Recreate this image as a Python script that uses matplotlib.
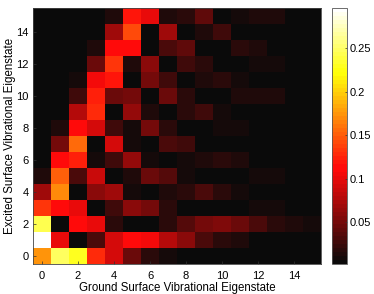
import numpy as np
import matplotlib
matplotlib.use('Agg')
import matplotlib.pyplot as plt
from matplotlib.colors import ListedColormap

plt.rcParams['font.family'] = ['Liberation Sans', 'DejaVu Sans']

x_label = 'Ground Surface Vibrational Eigenstate'
y_label = 'Excited Surface Vibrational Eigenstate'
ticks = [0, 2, 4, 6, 8, 10, 12, 14]
cbar_ticks = [0.05, 0.1, 0.15, 0.2, 0.25]
cbar_labels = ['0.05', '0.1', '0.15', '0.2', '0.25']
vmin, vmax = 0.002, 0.296

row_0 = [.175, .25, .23, .13, .09, .045, .018, .01, .005, .003, .003, .003, .003, .003, .003, .003]
row_1 = [.296, .1, .003, .03, .09, .115, .105, .08, .06, .03, .018, .012, .005, .005, .004, .004]
row_2 = [.245, .003, .115, .1, .02, .003, .006, .018, .035, .05, .055, .045, .03, .02, .012, .008]
row_3 = [.135, .115, .1, .003, .025, .06, .05, .02, .005, .003, .003, .006, .008, .008, .006, .004]
row_4 = [.07, .17, .003, .06, .07, .01, .005, .012, .02, .03, .02, .01, .003, .003, .003, .003]
row_5 = [.015, .15, .03, .085, .003, .012, .045, .035, .008, .004, .004, .006, .008, .008, .006, .004]
row_6 = [.004, .115, .125, .01, .025, .065, .01, .004, .01, .015, .018, .012, .003, .003, .003, .003]
row_7 = [.003, .05, .155, .005, .09, .007, .006, .03, .025, .006, .004, .004, .006, .006, .005, .004]
row_8 = [.003, .012, .115, .09, .025, .008, .05, .018, .003, .006, .01, .01, .006, .005, .005, .005]
row_9 = [.003, .005, .08, .13, .003, .065, .015, .004, .02, .025, .008, .003, .003, .003, .003, .003]
row_10 = [.003, .003, .025, .125, .045, .05, .004, .045, .02, .003, .004, .012, .012, .012, .003, .003]
row_11 = [.003, .003, .007, .105, .12, .003, .05, .025, .003, .012, .02, .01, .003, .003, .003, .003]
row_12 = [.003, .003, .003, .045, .135, .015, .06, .005, .025, .02, .004, .004, .007, .01, .006, .004]
row_13 = [.003, .003, .003, .012, .115, .115, .005, .03, .04, .004, .005, .018, .012, .003, .003, .003]
row_14 = [.003, .003, .003, .003, .07, .14, .004, .07, .005, .015, .025, .006, .003, .003, .005, .003]
row_15 = [.003, .003, .003, .003, .012, .12, .10, .015, .02, .04, .003, .008, .015, .015, .003, .003]

rows = [row_0, row_1, row_2, row_3, row_4, row_5, row_6, row_7, row_8, row_9,
        row_10, row_11, row_12, row_13, row_14, row_15]
Z = np.array(rows)

W, H = 374, 294
fig = plt.figure(figsize=(W / 100, H / 100), dpi=100)
ax = fig.add_axes([33 / W, 1 - 264 / H, 288 / W, 256 / H])
base = plt.get_cmap('hot', 64)(np.arange(64))
base[:, :3] = np.maximum(base[:, :3], 0.04)
cmap = ListedColormap(base)
im = ax.imshow(Z, origin='lower', cmap=cmap, vmin=vmin, vmax=vmax, aspect='auto',
               interpolation='nearest')
ax.set_xticks(ticks)
ax.set_yticks(ticks)
ax.tick_params(direction='in', length=2.5, width=0.5, labelsize=8, color='#333333')
ax.tick_params(axis='x', pad=5)
ax.tick_params(axis='y', pad=3)
ax.set_xlabel(x_label, fontsize=8.3, labelpad=0.5)
ax.set_ylabel(y_label, fontsize=8.3, labelpad=0.5)
for s in ax.spines.values():
    s.set_linewidth(0.6)
    s.set_color('#444444')

cax = fig.add_axes([332 / W, 1 - 264 / H, 15 / W, 256 / H])
cb = fig.colorbar(im, cax=cax)
cb.set_ticks(cbar_ticks)
cb.set_ticklabels(cbar_labels)
cax.tick_params(direction='in', length=1.5, width=0.5, labelsize=8, color='#333333', pad=2)
cb.outline.set_linewidth(0.6)
cb.outline.set_edgecolor('#555555')

fig.savefig('out.png', dpi=100)
